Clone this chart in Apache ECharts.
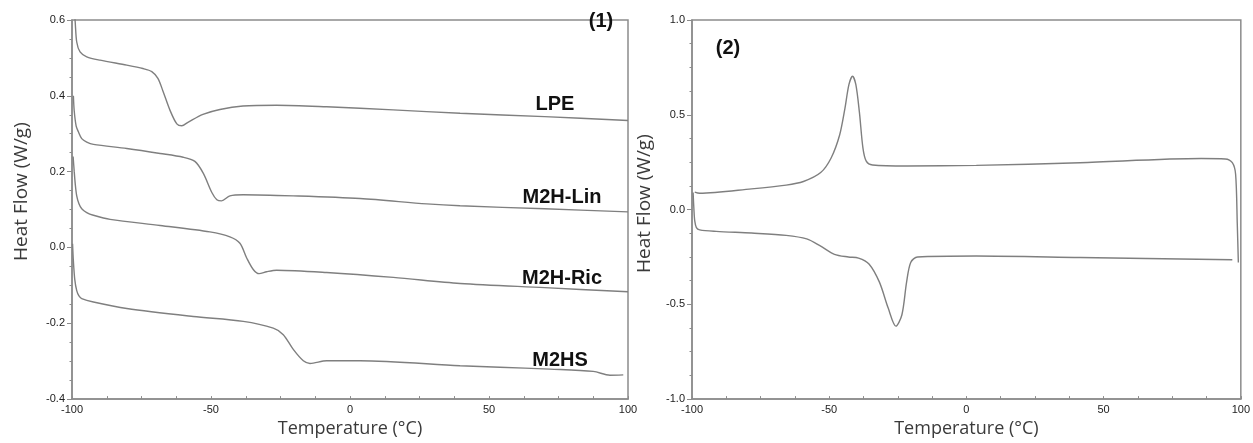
<!DOCTYPE html>
<html>
<head>
<meta charset="utf-8">
<script src="https://cdn.jsdelivr.net/npm/echarts@6/dist/echarts.min.js"></script>
<style>
  html, body { margin: 0; padding: 0; background: #ffffff; }
  #chart { width: 1253px; height: 443px; }
</style>
</head>
<body>
<div id="chart"></div>
<script>
// ---- Panel (1) data ----
const tempLPE = [-99.7,-98.9,-98.3,-97.1,-94.7,-89.9,-80.3,-74.5,-71.3,-69.1,-67.3,-64.7,-62.3,-60.5,-58.3,-52.9,-46.8,-38.5,-26.4,-8.4,15.5,39.6,70,100];
const flowLPE = [0.66,0.60,0.542,0.516,0.503,0.494,0.481,0.472,0.464,0.446,0.413,0.361,0.326,0.321,0.330,0.351,0.364,0.373,0.375,0.371,0.363,0.354,0.345,0.335];

const tempLin = [-99.5,-99.2,-98.5,-97.7,-96.5,-94.7,-92.3,-80.3,-68.3,-60.0,-55.8,-52.8,-49.7,-47.9,-46.2,-43.2,-38.4,-20.4,3.6,27.6,39.6,70,100];
const flowLin = [0.40,0.36,0.32,0.305,0.287,0.278,0.272,0.261,0.248,0.238,0.227,0.196,0.145,0.126,0.123,0.136,0.139,0.136,0.129,0.115,0.110,0.102,0.094];

const tempRic = [-99.6,-99.2,-98.8,-98.3,-97.5,-96.5,-94.7,-92.3,-86.3,-68.3,-50.4,-43.2,-39.6,-37.2,-34.8,-32.7,-30.0,-26.4,-8.4,15.6,39.6,70,100];
const flowRic = [0.24,0.20,0.165,0.136,0.115,0.102,0.092,0.085,0.074,0.058,0.041,0.028,0.011,-0.027,-0.058,-0.069,-0.064,-0.060,-0.066,-0.079,-0.095,-0.106,-0.117];

const tempHS = [-99.8,-99.5,-99.0,-98.3,-97.5,-96.5,-92.3,-80.3,-56.4,-38.4,-27.6,-24.0,-20.4,-16.8,-14.4,-8.4,3.6,39.6,53.9,71.9,87.5,93.5,98.3];
const flowHS = [0.01,-0.036,-0.085,-0.114,-0.128,-0.135,-0.144,-0.161,-0.182,-0.195,-0.213,-0.230,-0.269,-0.299,-0.306,-0.299,-0.299,-0.312,-0.316,-0.321,-0.327,-0.337,-0.336];

const labels1 = ['LPE', 'M2H-Lin', 'M2H-Ric', 'M2HS'];

// ---- Panel (2) data ----
const tempCool = [-99.0,-97.2,-78.3,-65.7,-59.4,-53.1,-49.3,-46.2,-44.3,-42.8,-41.5,-40.3,-39.0,-37.7,-36.5,-34.2,-21.6,3.6,41.4,85.5,94.3,96.9,98.1,98.7,99.1];
const flowCool = [0.092,0.086,0.109,0.129,0.148,0.195,0.272,0.393,0.531,0.660,0.703,0.660,0.514,0.324,0.255,0.235,0.230,0.233,0.247,0.269,0.267,0.247,0.186,-0.072,-0.279];

const tempHeat = [-99.6,-99.3,-99.0,-98.4,-97.2,-91.2,-78.3,-65.7,-58.2,-53.1,-48.1,-43.0,-39.3,-35.5,-31.7,-28.5,-25.7,-23.5,-21.8,-20.3,-17.8,3.6,41.4,96.9];
const flowHeat = [0.09,0.0,-0.06,-0.095,-0.107,-0.115,-0.124,-0.136,-0.155,-0.193,-0.236,-0.250,-0.256,-0.287,-0.383,-0.520,-0.615,-0.555,-0.383,-0.279,-0.250,-0.245,-0.253,-0.265];

// axis ranges / tick steps
const xRange = [-100, 100, 50];
const y1Range = [-0.4, 0.6, 0.2];
const y2Range = [-1.0, 1.0, 0.5];

const xName = 'Temperature (°C)';
const yName = 'Heat Flow (W/g)';

function pairs(xs, ys) { return xs.map((x, i) => [x, ys[i]]); }

const AXIS_COLOR = '#8c8c8c';
const LINE_COLOR = '#7f7f7f';
const TICK_FONT = 'Liberation Sans, Arial, sans-serif';
const NAME_FONT = 'Open Sans, Noto Sans, sans-serif';

function xAxisFor(gi) {
  return {
    type: 'value', gridIndex: gi,
    min: xRange[0], max: xRange[1], interval: xRange[2],
    name: xName, nameLocation: 'middle', nameGap: 13,
    nameTextStyle: { fontFamily: NAME_FONT, fontSize: 18, color: '#3a3a3a' },
    axisLine: { show: true, onZero: false, lineStyle: { color: AXIS_COLOR, width: 1.5 } },
    axisTick: { show: true, inside: true, length: 3, lineStyle: { color: AXIS_COLOR } },
    minorTick: { show: true, splitNumber: 4, length: 3, lineStyle: { color: AXIS_COLOR } },
    splitLine: { show: false },
    axisLabel: { margin: 5, fontFamily: TICK_FONT, fontSize: 11, color: '#222',
      formatter: v => String(Math.round(v)) }
  };
}
function yAxisFor(gi, r, gap, pad) {
  return {
    type: 'value', gridIndex: gi,
    min: r[0], max: r[1], interval: r[2],
    name: yName, nameLocation: 'middle', nameGap: gap, nameRotate: 90,
    nameTextStyle: { fontFamily: NAME_FONT, fontSize: 19, color: '#3a3a3a', padding: pad },
    axisLine: { show: true, onZero: false, lineStyle: { color: AXIS_COLOR, width: 1.5 } },
    axisTick: { show: true, inside: false, length: 5, lineStyle: { color: AXIS_COLOR } },
    minorTick: { show: true, splitNumber: 4, length: 2.5, lineStyle: { color: AXIS_COLOR } },
    splitLine: { show: false },
    axisLabel: { margin: 7, fontFamily: TICK_FONT, fontSize: 11, color: '#222',
      formatter: v => v.toFixed(1) }
  };
}
function lineSeries(xi, yi, xs, ys) {
  return {
    type: 'line', xAxisIndex: xi, yAxisIndex: yi,
    data: pairs(xs, ys), showSymbol: false, symbol: 'none',
    smooth: 0.3, clip: true,
    lineStyle: { color: LINE_COLOR, width: 1.4 },
    silent: true, animation: false
  };
}

const chart = echarts.init(document.getElementById('chart'), null, { renderer: 'canvas' });
const labelFont = 'bold 20px Liberation Sans, Arial, sans-serif';
chart.setOption({
  animation: false,
  backgroundColor: '#ffffff',
  grid: [
    { left: 72, top: 20, width: 556, height: 387, show: true, borderColor: AXIS_COLOR, borderWidth: 1.5, backgroundColor: 'transparent' },
    { left: 692, top: 20, width: 557, height: 386, show: true, borderColor: AXIS_COLOR, borderWidth: 1.5, backgroundColor: 'transparent' }
  ],
  xAxis: [xAxisFor(0), xAxisFor(1)],
  yAxis: [yAxisFor(0, y1Range, 41, [0, 0, 0, 36]), yAxisFor(1, y2Range, 38, [0, 0, 0, 12])],
  series: [
    lineSeries(0, 0, tempLPE, flowLPE),
    lineSeries(0, 0, tempLin, flowLin),
    lineSeries(0, 0, tempRic, flowRic),
    lineSeries(0, 0, tempHS, flowHS),
    lineSeries(1, 1, tempCool, flowCool),
    lineSeries(1, 1, tempHeat, flowHeat)
  ],
  graphic: [
    { type: 'text', x: 601, y: 21, style: { text: '(1)', font: labelFont, fill: '#111', align: 'center', verticalAlign: 'middle' } },
    { type: 'text', x: 728, y: 48, style: { text: '(2)', font: labelFont, fill: '#111', align: 'center', verticalAlign: 'middle' } },
    { type: 'text', x: 555, y: 104, style: { text: labels1[0], font: labelFont, fill: '#111', align: 'center', verticalAlign: 'middle' } },
    { type: 'text', x: 562, y: 197, style: { text: labels1[1], font: labelFont, fill: '#111', align: 'center', verticalAlign: 'middle' } },
    { type: 'text', x: 562, y: 278, style: { text: labels1[2], font: labelFont, fill: '#111', align: 'center', verticalAlign: 'middle' } },
    { type: 'text', x: 560, y: 360, style: { text: labels1[3], font: labelFont, fill: '#111', align: 'center', verticalAlign: 'middle' } }
  ]
});
</script>
</body>
</html>
